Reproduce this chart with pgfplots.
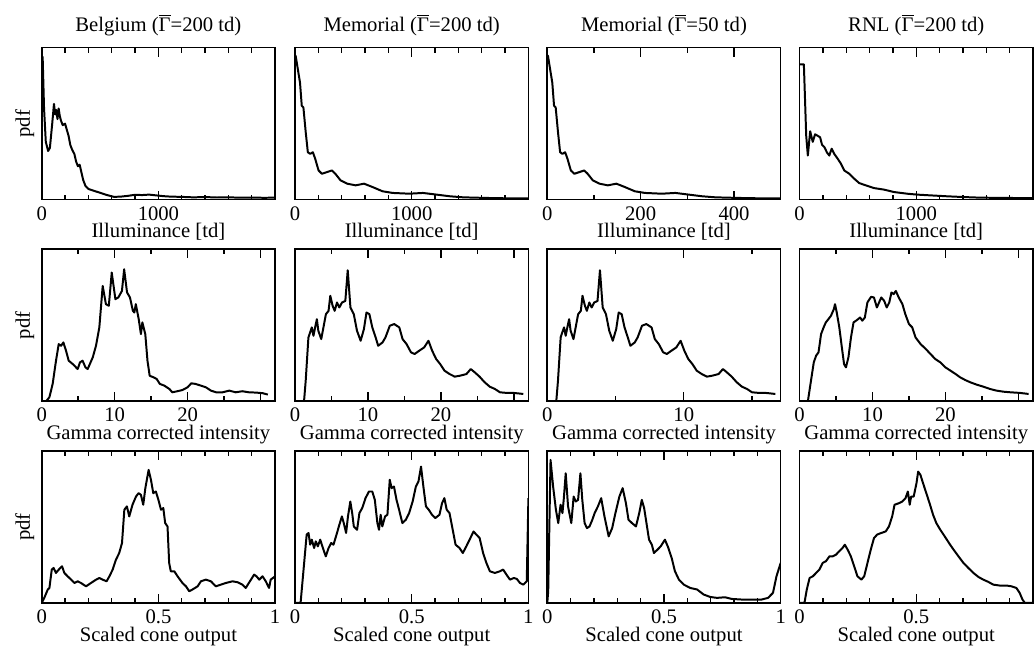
\documentclass[border=0pt]{standalone}
\usepackage{fontspec}
\setmainfont{Liberation Serif}
\usepackage{pgfplots}
\pgfplotsset{compat=1.18}
\newcommand\Gbar{$\overline{\hbox{Γ}}$}
\newcommand\mkticks[2]{%
 \foreach \t in {#1}{\draw[black,line width=0.7pt] (axis cs:\t,0) -- ++(0pt,4.5pt) (axis cs:\t,100) -- ++(0pt,-4.5pt);}%
 \foreach \t in {#2}{\draw[black,line width=0.7pt] (axis cs:\t,0) -- ++(0pt,2.5pt) (axis cs:\t,100) -- ++(0pt,-2.5pt);}}
\pgfplotsset{
 panel/.style={width=117.5pt,height=76.5pt,scale only axis,ymin=0,ymax=100,ytick=\empty,
   tick pos=both, tick align=inside, major tick length=4.5pt, minor tick length=2.5pt,
   tick style={black,line width=0.7pt},
   extra description/.code={\draw[black,line width=0.8pt] (rel axis cs:0,0) rectangle (rel axis cs:1,1);},
   xticklabel style={anchor=base,yshift=-10.3pt,inner sep=0pt},
   every axis x label/.style={at={(axis description cs:0.5,0)},anchor=base,yshift=-19.3pt},
   every axis y label/.style={at={(axis description cs:0,0.5)},rotate=90,anchor=base,yshift=6pt},
   every axis title/.style={at={(axis description cs:0.5,1)},anchor=base,yshift=8pt},
   anchor=south west},
 illum/.style={panel,xmin=0,xmax=2000,xtick={0,1000},xticklabels={0,1000},
   minor xtick={200,400,600,800,1200,1400,1600,1800},xlabel={Illuminance [td]},
   extra description/.append code={\mkticks{1000}{200,400,600,800,1200,1400,1600,1800}}},
 illumB/.style={panel,xmin=0,xmax=500,xtick={0,200,400},xticklabels={0,200,400},
   minor xtick={100,300},xlabel={Illuminance [td]},
   extra description/.append code={\mkticks{200,400}{100,300}}},
 gam/.style={panel,xmin=0,xmax=32,xtick={0,10,20,30},xticklabels={0,10,20,},
   minor xtick={5,15,25},xlabel={Gamma corrected intensity},
   extra description/.append code={\mkticks{10,20,30}{5,15,25}}},
 gamB/.style={panel,xmin=0,xmax=17.1,xtick={0,10},xticklabels={0,10},
   minor xtick={5,15},xlabel={Gamma corrected intensity},
   extra description/.append code={\mkticks{10}{5,15}}},
 cone/.style={panel,xmin=0,xmax=1,xtick={0,0.5,1},xticklabels={0,0.5,1},
   minor xtick={0.1,0.2,0.3,0.4,0.6,0.7,0.8,0.9},xlabel={Scaled cone output},
   extra description/.append code={\mkticks{0.5}{0.1,0.2,0.3,0.4,0.6,0.7,0.8,0.9}}},
 curve/.style={black,line width=1pt,line join=round,mark=none},
}
\begin{document}
\fontsize{10.4}{12}\selectfont
\begin{tikzpicture}
\path (0,0) rectangle (520pt,325pt);
% ---------------- Row 1
\begin{axis}[illum,at={(21pt,224.5pt)},title={Belgium (\Gbar=200 td)},ylabel={pdf}]
\addplot[curve] coordinates {(0,94)(8,94)(20,60)(35,38)(55,32)(70,34)(90,50)(105,63)(115,56)(125,59)(135,53)(145,60)(155,55)(165,52)(180,49)(200,50)(215,46)(230,42)(245,36)(260,33)(280,30)(295,25)(310,22)(325,23)(340,18)(355,13)(375,9)(400,7)(440,6)(480,5)(520,4)(560,3)(620,1.8)(680,2)(740,2.5)(800,3.2)(860,3)(920,3.3)(980,2.8)(1040,2.3)(1100,2)(1200,1.8)(1300,1.5)(1400,1.7)(1500,1.4)(1600,1.5)(1700,1.3)(1800,1.4)(1900,1.2)(2000,1.3)};
\end{axis}
\begin{axis}[illum,at={(148.5pt,224.5pt)},title={Memorial (\Gbar=200 td)}]
\addplot[curve] coordinates {(0,95)(6,94.5)(43,77)(58,61.8)(72,60.7)(92,44.3)(110,31.2)(130,30.1)(153,31.2)(173,26.9)(202,19.2)(231,17)(274,18.1)(317,19.2)(346,17)(390,12.7)(447,10.5)(519,9.4)(592,10.5)(664,8.3)(750,5.5)(837,4.4)(981,3.9)(1097,4.4)(1212,3.3)(1328,2.2)(1443,1.5)(1645,1.1)(1789,0.9)(2000,0.9)};
\end{axis}
\begin{axis}[illumB,at={(275.5pt,224.5pt)},title={Memorial (\Gbar=50 td)}]
\addplot[curve] coordinates {(0,95)(1.5,94.5)(10.75,77)(14.5,61.8)(18,60.7)(23,44.3)(27.5,31.2)(32.5,30.1)(38.25,31.2)(43.25,26.9)(50.5,19.2)(57.75,17)(68.5,18.1)(79.25,19.2)(86.5,17)(97.5,12.7)(111.75,10.5)(129.75,9.4)(148,10.5)(166,8.3)(187.5,5.5)(209.25,4.4)(245.25,3.9)(274.25,4.4)(303,3.3)(332,2.2)(360.75,1.5)(411.25,1.1)(447.25,0.9)(500,0.9)};
\end{axis}
\begin{axis}[illum,at={(402.5pt,224.5pt)},title={RNL (\Gbar=200 td)}]
\addplot[curve] coordinates {(0,89)(8.5,89)(37,89)(57,42)(71,29)(91,45)(113,38)(133,43)(156,42)(176,41)(193,36)(213,34.5)(235,31)(255,29)(275,33.5)(298,30)(326,27)(355,23.6)(383,19.2)(426,17)(468,13.8)(511,10.9)(567,9.4)(638,7.6)(723,6.6)(809,5)(922,3.9)(1007,3.3)(1121,2.8)(1262,2.2)(1404,1.7)(1546,1.3)(1773,1.1)(2000,1)};
\end{axis}
% ---------------- Row 2
\begin{axis}[gam,at={(21pt,123pt)},ylabel={pdf}]
\addplot[curve] coordinates {(0,0)(0.6,0)(1.05,2.6)(1.5,11.4)(1.96,26.7)(2.33,37.6)(2.65,36.5)(2.97,38.7)(3.33,33.3)(3.7,26.7)(4.25,24.5)(4.93,21.2)(5.25,25.6)(5.6,26.7)(6.0,22.3)(6.3,21.2)(7.0,28.9)(7.44,36.5)(7.9,48.6)(8.36,75.9)(8.8,63.9)(9.2,62.8)(9.6,84.7)(10.1,67.2)(10.5,68.3)(11.0,72.6)(11.3,86.9)(11.7,71.6)(12.1,68.3)(12.5,59.5)(12.7,58.4)(12.9,63.9)(13.3,54)(13.6,44.2)(13.8,51.9)(14.2,44.2)(14.5,26.7)(14.8,16.8)(15.3,15.8)(15.75,14.7)(16.2,11.4)(16.8,10.3)(17.5,8.1)(17.9,5.9)(18.6,6.6)(19.3,7.4)(20.0,9.2)(20.5,11.8)(21.1,11.4)(21.8,10.3)(22.5,9.2)(23.2,7)(23.9,5.9)(24.8,5.9)(25.7,7)(26.6,5.9)(27.5,6.6)(28.4,5.9)(29.4,5.7)(30.3,5.3)(31,4.4)};
\end{axis}
\begin{axis}[gam,at={(148.5pt,123pt)}]
\addplot[curve] coordinates {(0,0)(1.24,0)(1.47,13.6)(1.84,42)(2.07,45.3)(2.3,48.6)(2.53,43.1)(2.76,48.6)(3.0,54)(3.2,46.4)(3.6,40.9)(3.9,48.6)(4.24,57.3)(4.6,59.5)(4.84,69.4)(5.16,62.8)(5.44,59.5)(5.76,65)(6.08,61.7)(6.45,65)(6.9,66)(7.23,86.2)(7.6,61.7)(8.06,57.3)(8.5,46.4)(9.0,39.8)(9.45,47.5)(9.8,58.4)(10.2,57.3)(10.6,48.6)(11.06,42)(11.4,36.5)(12.0,38.7)(12.4,42)(13.0,49.7)(13.6,50.8)(14.3,48.6)(14.75,40.9)(15.3,37.6)(15.9,32.2)(16.4,31.1)(17.05,33.3)(17.7,35.4)(18.3,39.8)(18.8,33.3)(19.35,27.8)(19.9,24.5)(20.5,20.1)(21.2,17.9)(21.9,16.2)(22.6,16.8)(23.5,17.9)(24.1,21.2)(24.65,19)(25.3,16.2)(26.0,12.5)(26.7,9.6)(27.4,8.1)(28.1,5.9)(29.0,5.5)(29.95,5.5)(31.3,4.8)};
\end{axis}
\begin{axis}[gamB,at={(275.5pt,123pt)}]
\addplot[curve] coordinates {(0,0)(0.66,0)(0.785,13.6)(0.98,42)(1.1,45.3)(1.23,48.6)(1.35,43.1)(1.47,48.6)(1.6,54)(1.71,46.4)(1.92,40.9)(2.08,48.6)(2.26,57.3)(2.46,59.5)(2.58,69.4)(2.76,62.8)(2.9,59.5)(3.08,65)(3.25,61.7)(3.44,65)(3.68,66)(3.86,86.2)(4.06,61.7)(4.3,57.3)(4.54,46.4)(4.8,39.8)(5.05,47.5)(5.23,58.4)(5.45,57.3)(5.66,48.6)(5.9,42)(6.09,36.5)(6.41,38.7)(6.62,42)(6.94,49.7)(7.26,50.8)(7.64,48.6)(7.88,40.9)(8.17,37.6)(8.49,32.2)(8.76,31.1)(9.1,33.3)(9.45,35.4)(9.77,39.8)(10.04,33.3)(10.33,27.8)(10.63,24.5)(10.95,20.1)(11.32,17.9)(11.69,16.2)(12.07,16.8)(12.55,17.9)(12.87,21.2)(13.16,19)(13.51,16.2)(13.88,12.5)(14.26,9.6)(14.63,8.1)(15.0,5.9)(15.49,5.5)(15.99,5.5)(16.71,4.8)};
\end{axis}
\begin{axis}[gam,at={(402.5pt,123pt)}]
\addplot[curve] coordinates {(0,0)(1.14,0)(1.5,11.4)(1.95,25.6)(2.27,30)(2.6,32.2)(2.95,44.2)(3.3,48.6)(3.6,51.9)(3.95,54)(4.3,56.2)(4.7,60.6)(4.86,63.9)(5.1,58.4)(5.45,48.6)(5.8,35.4)(6.1,24.5)(6.36,22.3)(6.7,28.9)(7.05,42)(7.4,51.9)(7.86,53.4)(8.3,55.1)(8.6,53)(8.95,55.1)(9.3,65)(9.8,68.7)(10.2,68.3)(10.6,61.7)(10.9,65)(11.2,68.3)(11.6,66.1)(11.95,61.7)(12.3,65)(12.6,71.6)(12.9,70.5)(13.2,72.6)(13.6,68.3)(14.1,63.9)(14.5,57.3)(15.0,50.8)(15.45,48.6)(15.9,42)(16.6,37.6)(17.3,34.4)(17.95,31.1)(18.6,27.8)(19.3,25.6)(20.0,22.3)(20.7,20.1)(21.4,17.9)(22.0,15.8)(22.7,14)(23.4,12.5)(24.3,10.9)(25.2,9.6)(26.1,8.1)(27.0,7)(27.95,6.3)(28.9,5.9)(30.2,5.5)(31.4,4.8)};
\end{axis}
% ---------------- Row 3
\begin{axis}[cone,at={(21pt,21.5pt)},ylabel={pdf}]
\addplot[curve] coordinates {(0,0)(0.011,3.3)(0.026,8.8)(0.033,9.8)(0.043,21.9)(0.051,23)(0.061,19.7)(0.073,21.9)(0.087,24.1)(0.097,19.7)(0.111,17.5)(0.126,15.3)(0.14,13.1)(0.154,14.2)(0.168,13.1)(0.19,10.9)(0.211,13.1)(0.233,15.3)(0.247,16.4)(0.261,15.3)(0.278,14.2)(0.29,17.5)(0.304,21.9)(0.318,28.4)(0.332,32.8)(0.344,39.4)(0.354,61.3)(0.365,63.5)(0.375,56.9)(0.389,64.6)(0.404,70)(0.415,72.2)(0.425,71.1)(0.435,64.6)(0.444,75.5)(0.458,87.5)(0.468,81)(0.478,72.2)(0.489,73.3)(0.5,67.8)(0.511,61.3)(0.521,62.4)(0.529,52.5)(0.539,50.3)(0.546,26.3)(0.553,20.8)(0.568,20.8)(0.582,17.5)(0.603,13.1)(0.618,10.9)(0.632,7.7)(0.646,8.8)(0.668,10.9)(0.682,14.2)(0.703,15.3)(0.725,14.2)(0.746,10.9)(0.767,12)(0.789,13.1)(0.817,14.2)(0.839,13.6)(0.86,12)(0.874,9.8)(0.892,14.2)(0.91,18.6)(0.92,17.5)(0.932,15.3)(0.946,17.5)(0.96,14.2)(0.974,9.8)(0.981,15.3)(1,17.5)};
\end{axis}
\begin{axis}[cone,at={(148.5pt,21.5pt)}]
\addplot[curve] coordinates {(0,0)(0.024,0)(0.05,44.9)(0.058,46)(0.065,38.3)(0.072,41.6)(0.082,36.1)(0.089,40.5)(0.098,37.2)(0.108,41.6)(0.115,38.3)(0.122,35)(0.132,30.6)(0.144,36.1)(0.155,39.4)(0.165,38.3)(0.18,46)(0.19,51.4)(0.201,56.9)(0.209,52.5)(0.219,46)(0.227,56.9)(0.237,66.7)(0.245,59.1)(0.252,50.3)(0.266,48.1)(0.276,59.1)(0.288,62.4)(0.302,68.9)(0.317,73.3)(0.331,73.3)(0.342,67.8)(0.353,52.5)(0.36,48.1)(0.367,58)(0.374,50.3)(0.386,56.9)(0.396,58)(0.406,81)(0.414,75.5)(0.424,76.6)(0.435,67.8)(0.446,61.3)(0.46,52.5)(0.475,54.7)(0.489,59.1)(0.504,66.7)(0.518,76.6)(0.529,79.9)(0.54,89.7)(0.55,76.6)(0.561,63.5)(0.573,61.3)(0.587,58)(0.601,55.8)(0.619,58)(0.63,65.6)(0.64,68.9)(0.65,61.3)(0.662,59.1)(0.673,50.3)(0.688,38.3)(0.705,36.1)(0.719,32.8)(0.734,37.2)(0.748,41.6)(0.765,47)(0.777,44.9)(0.791,42.7)(0.806,32.8)(0.82,26.3)(0.835,20.8)(0.856,19.7)(0.878,20.8)(0.892,21.9)(0.906,18.6)(0.921,15.3)(0.938,16.4)(0.95,15.8)(0.964,13.1)(0.978,12)(0.993,14.2)(1,68.9)};
\end{axis}
\begin{axis}[cone,at={(275.5pt,21.5pt)}]
\addplot[curve] coordinates {(0,0)(0.004,7.7)(0.014,94.1)(0.025,76.6)(0.037,61.3)(0.047,52.5)(0.057,64.6)(0.065,59.1)(0.071,68.9)(0.079,85.3)(0.089,63.5)(0.103,52.5)(0.113,70)(0.122,66.7)(0.132,67.8)(0.142,85.3)(0.15,67.8)(0.16,52.5)(0.17,49.2)(0.181,50.3)(0.193,54.7)(0.203,59.1)(0.217,63.5)(0.231,68.9)(0.245,56.9)(0.263,43.8)(0.278,49.2)(0.292,59.1)(0.309,70)(0.323,75.5)(0.337,65.6)(0.348,54.7)(0.363,52.5)(0.38,50.3)(0.394,59.1)(0.405,67.8)(0.415,62.4)(0.425,52.5)(0.436,41.6)(0.448,38.3)(0.457,32.8)(0.472,35)(0.486,37.2)(0.504,41.6)(0.518,36.5)(0.533,29.5)(0.547,20.8)(0.564,15.3)(0.585,12)(0.613,9.8)(0.642,8.8)(0.67,5.5)(0.698,3.9)(0.727,3.3)(0.762,3.7)(0.79,2.6)(0.833,2.2)(0.875,2.2)(0.918,2.2)(0.946,3.3)(0.967,6.6)(0.982,17.5)(1,26.3)};
\end{axis}
\begin{axis}[cone,at={(402.5pt,21.5pt)},xticklabels={0,0.5,}]
\addplot[curve] coordinates {(0,0)(0.021,0)(0.031,8.8)(0.043,16.4)(0.057,17.5)(0.071,19.7)(0.085,21.9)(0.099,26.3)(0.113,27.4)(0.128,30.6)(0.142,30.6)(0.156,31.7)(0.17,34)(0.184,36.1)(0.194,38.3)(0.206,35)(0.22,30.6)(0.234,24.1)(0.248,17.5)(0.265,15.3)(0.277,17.5)(0.291,26.3)(0.305,35)(0.319,42.7)(0.333,45)(0.35,46)(0.369,47)(0.383,50.3)(0.397,57)(0.407,64.6)(0.426,65.6)(0.44,66.7)(0.454,68.9)(0.464,73.3)(0.472,64.6)(0.478,70)(0.489,70)(0.501,78.8)(0.508,86.4)(0.518,84.2)(0.529,78.8)(0.543,72.2)(0.557,65.6)(0.572,58)(0.586,52.5)(0.603,48.1)(0.617,44.9)(0.631,41.6)(0.645,38.3)(0.66,35)(0.681,30.6)(0.702,26.3)(0.723,23)(0.745,19.7)(0.766,17.1)(0.787,15.3)(0.809,13.8)(0.83,12)(0.858,11.4)(0.887,11.4)(0.908,10.9)(0.929,9.8)(0.943,6.6)(0.955,2.2)(0.965,0)(1,0)};
\end{axis}
\end{tikzpicture}
\end{document}
